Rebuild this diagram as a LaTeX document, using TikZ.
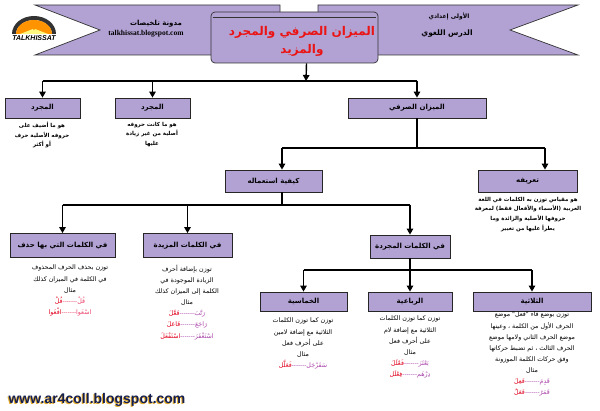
\documentclass[tikz,border=0pt]{standalone}
\usepackage{fontspec}
\setmainfont{Liberation Sans}
\newfontfamily\arabicfont[Script=Arabic]{DejaVu Sans}
\newfontfamily\serifurl{Liberation Serif}
\TeXXeTstate=1
\usetikzlibrary{arrows.meta,calc}
\definecolor{lav}{RGB}{178,162,212}
\definecolor{titred}{RGB}{235,20,20}
\definecolor{exred}{RGB}{225,0,30}
\definecolor{expur}{RGB}{170,70,170}
\definecolor{expink}{RGB}{235,70,110}
\definecolor{navy}{RGB}{20,30,80}
\definecolor{gold}{RGB}{225,170,40}
\newcommand\ar[1]{\hbox{\arabicfont\beginR #1\endR}}
\newcommand\dsh{-{}-{}-{}-{}-{}-{}-}
% word (right, coloured) -- weight (left, red), read right to left
\newcommand\exw[3][expur]{\hbox{{\color{exred}\ar{#3}}{\color{#1}\dsh\ar{#2}}}}
\begin{document}
\begin{tikzpicture}[x=1pt,y=-1pt,
  box/.style={draw=black!85, fill=lav, line width=0.8pt, inner sep=0pt, font=\bfseries\fontsize{7}{8}\selectfont},
  body/.style={align=center, inner sep=0pt, anchor=north, font=\fontsize{6.3}{11.1}\selectfont},
  small/.style={align=center, inner sep=0pt, anchor=north, font=\bfseries\fontsize{5.5}{9.6}\selectfont},
  ln/.style={line width=1.4pt},
  arr/.style={line width=1.4pt, -{Triangle[length=6pt,width=6.5pt]}},
  banner/.style={fill=lav, draw=black!80, line width=0.7pt}
]
\useasboundingbox (0,0) rectangle (600,411);
\fill[white] (0,0) rectangle (600,411);

% ---- banners and scroll
\draw[banner] (35,5) -- (280,5) -- (280,55) -- (35,55) -- (100,30) -- cycle;
\draw[banner] (578,5) -- (318,5) -- (318,55) -- (578,55) -- (510,30) -- cycle;
\node[banner, rounded corners=4pt, minimum width=167pt, minimum height=51pt, inner sep=0pt] (title) at (294.5,37.5) {};
\draw[black!80, line width=0.6pt] ($(title.north west)+(2,6)$) -- ($(title.north east)+(-2,6)$);
\node[align=center, text=titred, font=\bfseries\fontsize{12}{18}\selectfont] (ttext) at (302,41) {\ar{الميزان الصرفي والمجرد}\\\ar{والمزيد}};

% left banner texts
\node[font=\bfseries\fontsize{7}{8}\selectfont] (bl1) at (156,24) {\ar{مدونة تلخيصات}};
\node[font=\serifurl\bfseries\fontsize{7.5}{8}\selectfont] (bl2) at (146,34) {talkhissat.blogspot.com};
% right banner texts
\node[font=\bfseries\fontsize{6}{7}\selectfont] (br1) at (449,16) {\ar{الأولى إعدادي}};
\node[font=\bfseries\fontsize{7.5}{8}\selectfont] (br2) at (447,34) {\ar{الدرس اللغوي}};

% logo
\fill[black!80] (12,34) arc[start angle=180,end angle=360,x radius=22,y radius=18] -- (52,34) arc[start angle=360,end angle=180,x radius=18,y radius=14] -- cycle;
\fill[orange!85!yellow] (16,34) arc[start angle=180,end angle=360,x radius=18,y radius=14] -- cycle;
\fill[yellow!50!white] (20,34) -- (33,29) -- (34,31) -- (35,29) -- (48,34) -- cycle;
\node[font=\bfseries\itshape\fontsize{7}{7}\selectfont] (logo) at (34,38.5) {TALKHISSAT};

% ---- level 1
\node[box, minimum width=75pt, minimum height=20pt] (b1) at (42.5,108) {\ar{المجرد}};
\node[box, minimum width=75pt, minimum height=20pt] (b2) at (152.5,108) {\ar{المجرد}};
\node[box, minimum width=138pt, minimum height=20pt] (b3) at (417,108) {\ar{الميزان الصرفي}};
\node[small] (t1) at (42,122) {\ar{هو ما أضيف على}\\\ar{حروفه الأصلية حرف}\\\ar{أو أكثر}};
\node[small] (t2) at (152,122) {\ar{هو ما كانت حروفه}\\\ar{أصلية من غير زيادة}\\\ar{عليها}};

\coordinate (j1) at (306,81);
\draw[arr] ($(title.south)+(12,0)$) -- (j1);
\draw[ln] (b1.north |- j1) -- (b3.north |- j1);
\foreach \b in {b1,b2,b3} \draw[arr] (\b.north |- j1) -- (\b.north);

% ---- level 2
\node[box, minimum width=97pt, minimum height=22pt] (c1) at (273.5,181) {\ar{كيفية استعماله}};
\node[box, minimum width=99pt, minimum height=22pt] (c2) at (527.5,181) {\ar{تعريفه}};
\node[small] (t3) at (528,197) {\ar{هو مقياس توزن به الكلمات في اللغة}\\\ar{العربية (الأسماء والأفعال فقط) لمعرفة}\\\ar{حروفها الأصلية والزائدة وما}\\\ar{يطرأ عليها من تغيير}};
\coordinate (j2) at (417,148);
\coordinate (c1in) at ($(c1.north)+(8.5,0)$);
\coordinate (c2in) at ($(c2.north)+(17.5,0)$);
\draw[ln] (b3.south) -- (j2);
\draw[ln] (c1in |- j2) -- (c2in |- j2);
\draw[arr] (c1in |- j2) -- (c1in);
\draw[arr] (c2in |- j2) -- (c2in);

% ---- level 3
\node[box, minimum width=105pt, minimum height=24pt] (d1) at (62.5,245.5) {\ar{في الكلمات التي بها حذف}};
\node[box, minimum width=89pt, minimum height=24pt] (d2) at (187.5,245.5) {\ar{في الكلمات المزيدة}};
\node[box, minimum width=80pt, minimum height=23pt] (d3) at (410,246.5) {\ar{في الكلمات المجردة}};
\coordinate (j3) at (282,205);
\draw[ln] (c1in |- c1.south) -- (c1in |- j3);
\draw[ln] (d1.north |- j3) -- (d3.north |- j3);
\foreach \b in {d1,d2,d3} \draw[arr] (\b.north |- j3) -- (\b.north);

\node[body] (t4) at (70,265) {\ar{توزن بحذف الحرف المحذوف}\\\ar{في الكلمة في الميزان كذلك}\\\ar{مثال}\\\exw[expink]{قُلْ}{فُلْ}\\\exw[expink]{اسْعَوا}{افْعَوا}};
\node[body] (t5) at (187,265) {\ar{توزن بإضافة أحرف}\\\ar{الزيادة الموجودة في}\\\ar{الكلمة إلى الميزان كذلك}\\\ar{مثال}\\\exw{رَتَّبَ}{فَعَّلَ}\\\exw{رَاجَعَ}{فَاعَلَ}\\\exw{اسْتَغْفَرَ}{اسْتَفْعَلَ}};

% ---- level 4
\node[box, minimum width=87pt, minimum height=19pt] (e1) at (303.5,301.5) {\ar{الخماسية}};
\node[box, minimum width=84pt, minimum height=19pt] (e2) at (410,301.5) {\ar{الرباعية}};
\node[box, minimum width=118pt, minimum height=19pt] (e3) at (532,301.5) {\ar{الثلاثية}};
\coordinate (j4) at (410,270);
\draw[ln] (d3.south) -- (d3.south |- j4);
\draw[ln] (e1.north |- j4) -- (e3.north |- j4);
\foreach \b in {e1,e2,e3} \draw[arr] (\b.north |- j4) -- (\b.north);

\node[body] (t6) at (303,318) {\ar{توزن كما توزن الكلمات}\\\ar{الثلاثية مع إضافة لامين}\\\ar{على أحرف فعل}\\\ar{مثال}\\\exw{سَفَرْجَل}{فَعَلَّل}};
\node[body] (t7) at (410,316) {\ar{توزن كما توزن الكلمات}\\\ar{الثلاثية مع إضافة لام}\\\ar{على أحرف فعل}\\\ar{مثال}\\\exw{بَعْثَرَ}{فَعْلَلَ}\\\exw{دِرْهَم}{فِعْلَل}};
\node[body] (t8) at (532,312) {\ar{توزن بوضع فاء "فعل" موضع}\\\ar{الحرف الأول من الكلمة ، وعينها}\\\ar{موضع الحرف الثاني ولامها موضع}\\\ar{الحرف الثالث ، ثم تضبط حركاتها}\\\ar{وفق حركات الكلمة الموزونة}\\\ar{مثال}\\\exw{قَدِمَ}{فَعِلَ}\\\exw{قَمَرٌ}{فَعَلٌ}};

% footer
\node[font=\bfseries\fontsize{14}{15}\selectfont, text=gold] (wwwsh) at (96,401.2) {www.ar4coll.blogspot.com};
\node[font=\bfseries\fontsize{14}{15}\selectfont, text=navy] (www) at (97,400) {www.ar4coll.blogspot.com};
\end{tikzpicture}
\end{document}
